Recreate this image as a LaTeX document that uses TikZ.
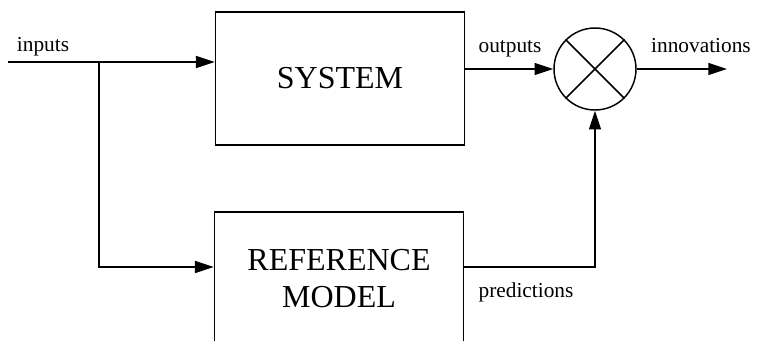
\documentclass[tikz,border=0pt]{standalone}
\usepackage{fontspec}
\setmainfont{Liberation Serif}
\usetikzlibrary{arrows.meta,positioning,calc}

\begin{document}
\begin{tikzpicture}[x=0.75pt,y=-0.75pt,
  block/.style={draw,line width=1.1pt,minimum width=187pt,minimum height=99.75pt,
                align=center,font=\fontsize{24}{28}\selectfont},
  summer/.style={draw,circle,line width=1.1pt,minimum size=61.5pt,inner sep=0pt},
  lab/.style={font=\fontsize{16}{19}\selectfont,inner sep=0pt,anchor=base},
  arr/.style={-{Triangle[length=14pt,width=9pt]},line width=1.1pt}]
  \useasboundingbox (0,0) rectangle (757,340);
  \clip (0,0) rectangle (757,340);
  \node[block] (sys) at (340,78.5) {SYSTEM};
  \node[block] (model) at (339,278.5) {REFERENCE\\MODEL};
  \node[summer] (sum) at (595,69) {};
  \draw[line width=1.1pt] (sum.45) -- (sum.225) (sum.135) -- (sum.315);
  \coordinate (in) at (8,62);
  \coordinate (br) at (99,62);
  \coordinate (lo) at (99,267);
  \coordinate (pr) at (595,267);
  \coordinate (out) at (727,69);
  \node[lab] (inlab) at (43,51) {inputs};
  \node[lab] (outlab) at (510,52) {outputs};
  \node[lab] (innlab) at (701,52) {innovations};
  \node[lab] (prlab) at (526,297) {predictions};
  \draw[arr] (in) -- (in -| sys.west);
  \draw[arr] (br) -- (lo) -- (lo -| model.west);
  \draw[arr] (sys.east |- sum.west) -- (sum.west);
  \draw[arr] (model.east |- pr) -- (pr) -- (sum.south);
  \draw[arr] (sum.east) -- (out);
\end{tikzpicture}
\end{document}
